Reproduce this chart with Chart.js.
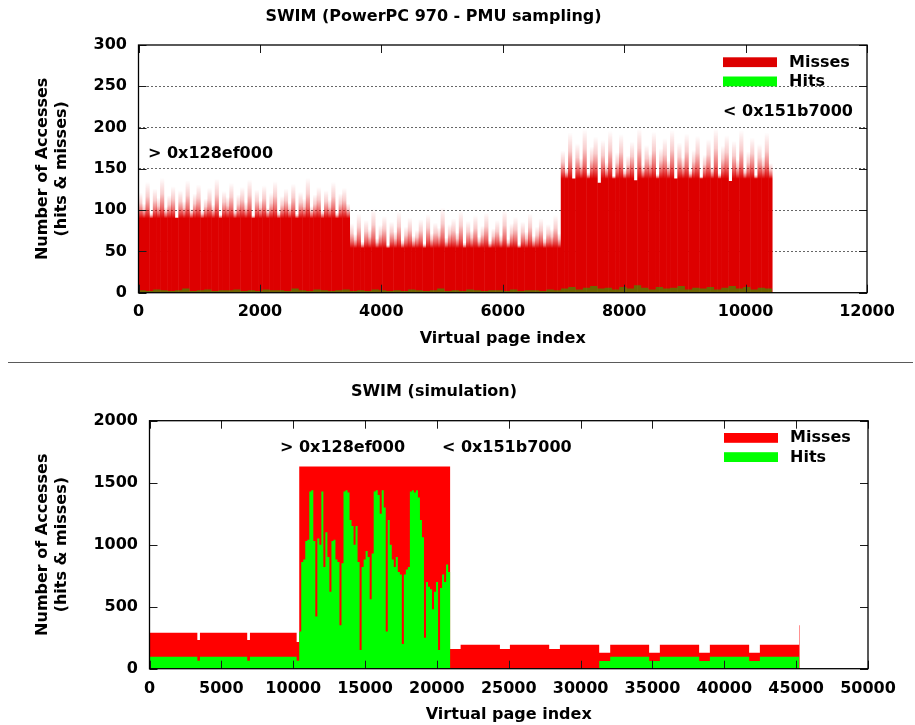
<!DOCTYPE html>
<html>
<head>
<meta charset="utf-8">
<title>SWIM page access histograms</title>
<script src="https://cdn.jsdelivr.net/npm/chart.js@4.4.1/dist/chart.umd.min.js"></script>
<style>
  html, body { margin: 0; padding: 0; background: #fff; }
  #wrap { position: relative; width: 915px; height: 725px; overflow: hidden; }
  canvas { position: absolute; left: 0; }
  #pmu { top: 0; }
  #sim { top: 362px; }
  #rule { position: absolute; left: 8px; top: 362px; width: 905px; height: 0; border-top: 1.5px solid #5a5a5a; }
</style>
</head>
<body>
<div id="wrap">
  <canvas id="pmu" width="915" height="362"></canvas>
  <canvas id="sim" width="915" height="363"></canvas>
  <div id="rule"></div>
</div>
<script>
// ---- shared text ----
const seriesNames = ['Misses', 'Hits'];
const pageAxisTitle = 'Virtual page index';
const countAxisTitle = ['Number of Accesses', '(hits & misses)'];
const rangeMarks = ['> 0x128ef000', '< 0x151b7000'];

// ---- PowerPC 970 PMU sampling ----
const pmuTitle = 'SWIM (PowerPC 970 - PMU sampling)';
const pmuPageTicks = [0, 2000, 4000, 6000, 8000, 10000, 12000];
const pmuCountTicks = [0, 50, 100, 150, 200, 250, 300];
const pmuBandStart = [0, 3480, 6960];      // first page of each array band
const pmuMissBin = 60;                       // pages per miss sample
const pmuMissesA = [121,108,134,97,126,115,139,104,118,129,92,124,111,136,102,120,131,99,114,127,
                    107,138,95,123,116,133,101,119,128,110,137,94,125,112,130,103,121,135,98,117,
                    126,109,132,96,122,114,139,105,119,128,100,124,113,134,97,120,127,108];
const pmuMissesB = [84,71,96,62,88,77,101,66,82,93,58,86,74,98,64,80,91,69,76,89,
                    60,95,72,85,79,103,67,83,90,73,99,61,87,75,94,68,81,97,63,78,
                    88,70,100,65,84,92,59,86,74,96,69,80,90,66,83,77,94,72];
const pmuMissesC = [172,151,194,138,181,163,198,146,177,189,133,185,158,196,142,170,192,149,166,183,
                    136,199,155,179,168,195,144,175,187,160,197,139,182,164,193,148,173,190,141,167,
                    186,153,199,145,178,191,135,184,161,197,150,171,188,143,180,165,194,157];
// below this level every page of a band is hit densely; above it the samples thin out
const pmuDenseLevel = [90, 54, 138];
const pmuHitBin = 120;
const pmuHitsA = [3,2,4,3,2,3,5,2,3,4,2,3,3,4,2,3,2,4,3,3,2,5,3,2,4,3,2,3,4];
const pmuHitsB = [2,3,2,4,3,2,3,2,4,3,2,3,5,2,3,2,4,3,2,3,3,2,4,2,3,3,2,4,3];
const pmuHitsC = [5,7,4,6,8,5,6,4,7,5,9,6,4,7,5,6,8,4,6,5,7,4,6,8,5,7,4,6,5];

// ---- simulation ----
const simTitle = 'SWIM (simulation)';
const simPageTicks = [0, 5000, 10000, 15000, 20000, 25000, 30000, 35000, 40000, 45000, 50000];
const simCountTicks = [0, 500, 1000, 1500, 2000];
const simHeadStart = [0, 3330, 3510, 6800, 6990, 10240];
const simHeadTotal = [290, 231, 290, 231, 290, 215];
const simHeadHits  = [97, 65, 97, 65, 97, 65];
const simBurstStart = 10420;
const simBurstBin = 140;
const simBurstTotal = 1630;
const simBurstHits = [300,860,880,1030,1040,1430,1440,1030,420,1050,
                      1000,1430,820,1100,900,620,1030,1040,880,860,
                      350,850,1430,1440,1420,1200,1150,1000,1150,860,
                      150,820,880,950,900,560,930,1430,1440,1400,
                      1250,1440,1300,300,1200,1000,880,820,900,780,
                      760,200,760,800,820,1430,1440,1420,1440,1380,
                      1200,1060,250,700,660,640,480,620,700,150,
                      650,760,700,840,780];
const simTailStart = [20920, 21650, 24385, 25080, 27815, 28560, 31295, 32060, 34770, 35515, 38250, 38995, 41730, 42475, 45210];
const simTailTotal = [159, 194, 159, 194, 159, 194, 129, 194, 129, 194, 129, 194, 129, 194, 350];
const simTailHits  = [0, 0, 0, 0, 0, 0, 62, 97, 63, 97, 63, 97, 63, 97, 0];
const simEnd = 45250;

// ---- colours ----
const pmuRed = '#dd0000';
const simRed = '#ff0000';
const hitGreen = '#00ff00';

Chart.defaults.font.family = "'DejaVu Sans', sans-serif";
Chart.defaults.font.size = 16;
Chart.defaults.font.weight = 'bold';
Chart.defaults.color = '#000';

// ---- build PMU series ----
const pmuMissBars = [];
[pmuMissesA, pmuMissesB, pmuMissesC].forEach((vals, band) => {
  vals.forEach((v, i) => pmuMissBars.push({ x: pmuBandStart[band] + (i + 0.5) * pmuMissBin, y: v, band }));
});
const pmuHitSteps = [];
[pmuHitsA, pmuHitsB, pmuHitsC].forEach((vals, band) => {
  vals.forEach((v, i) => pmuHitSteps.push({ x: pmuBandStart[band] + i * pmuHitBin, y: v }));
});
pmuHitSteps.push({ x: pmuBandStart[2] + pmuHitsC.length * pmuHitBin, y: 0 });

// ---- build simulation series ----
const simTotalSteps = [];
const simHitSteps = [];
simHeadStart.forEach((s, i) => {
  simTotalSteps.push({ x: s, y: simHeadTotal[i] });
  simHitSteps.push({ x: s, y: simHeadHits[i] });
});
simBurstHits.forEach((h, i) => {
  const s = simBurstStart + i * simBurstBin;
  simTotalSteps.push({ x: s, y: simBurstTotal });
  simHitSteps.push({ x: s, y: h });
});
simTailStart.forEach((s, i) => {
  simTotalSteps.push({ x: s, y: simTailTotal[i] });
  simHitSteps.push({ x: s, y: simTailHits[i] });
});
simTotalSteps.push({ x: simEnd, y: 0 });
simHitSteps.push({ x: simEnd, y: 0 });

// ---- fading fill: each sampled column thins out between the dense level and its own top ----
function columnFade(ctx) {
  const chart = ctx.chart;
  const raw = ctx.raw;
  if (!raw || !chart.chartArea || !chart.scales.y) return pmuRed;
  const dense = pmuDenseLevel[raw.band];
  if (raw.y <= dense) return pmuRed;
  const ys = chart.scales.y;
  const g = chart.ctx.createLinearGradient(0, ys.getPixelForValue(dense), 0, ys.getPixelForValue(raw.y));
  g.addColorStop(0, 'rgba(221,0,0,1)');
  g.addColorStop(0.25, 'rgba(221,0,0,0.6)');
  g.addColorStop(0.6, 'rgba(221,0,0,0.2)');
  g.addColorStop(1, 'rgba(221,0,0,0)');
  return g;
}

// ---- plugins: frame with inward ticks, in-plot key, range labels ----
const framePlugin = {
  id: 'frame',
  afterDraw(chart) {
    const { ctx, chartArea: a, scales: { x, y } } = chart;
    const len = 8;
    ctx.save();
    ctx.strokeStyle = '#1a1a1a';
    ctx.lineWidth = 1;
    ctx.beginPath();
    x.ticks.forEach(t => {
      const p = Math.round(x.getPixelForValue(t.value)) + 0.5;
      ctx.moveTo(p, a.bottom); ctx.lineTo(p, a.bottom - len);
      ctx.moveTo(p, a.top); ctx.lineTo(p, a.top + len);
    });
    y.ticks.forEach(t => {
      const p = Math.round(y.getPixelForValue(t.value)) + 0.5;
      ctx.moveTo(a.left, p); ctx.lineTo(a.left + len, p);
      ctx.moveTo(a.right, p); ctx.lineTo(a.right - len, p);
    });
    ctx.stroke();
    ctx.strokeStyle = '#000';
    ctx.lineWidth = 1.3;
    ctx.strokeRect(a.left, a.top, a.right - a.left, a.bottom - a.top);
    ctx.restore();
  }
};

const keyPlugin = {
  id: 'key',
  afterDraw(chart) {
    const { ctx, chartArea: a } = chart;
    const items = chart.data.datasets.filter(d => d.keyColor).sort((p, q) => p.keyRank - q.keyRank);
    ctx.save();
    ctx.font = "bold 16px 'DejaVu Sans', sans-serif";
    ctx.textBaseline = 'middle';
    ctx.textAlign = 'left';
    items.forEach((d, i) => {
      const top = a.top + 12.3 + i * 19.2;
      ctx.fillStyle = d.keyColor;
      ctx.fillRect(a.right - 144, top, 54, 9.8);
      ctx.fillStyle = '#000';
      ctx.fillText(d.label, a.right - 78, top + 5.2);
    });
    ctx.restore();
  }
};

const marksPlugin = {
  id: 'marks',
  afterDraw(chart, args, opts) {
    const { ctx, scales: { x, y } } = chart;
    ctx.save();
    ctx.font = "bold 16px 'DejaVu Sans', sans-serif";
    ctx.fillStyle = '#000';
    ctx.textAlign = 'left';
    ctx.textBaseline = 'alphabetic';
    (opts.items || []).forEach(m => ctx.fillText(m.text, x.getPixelForValue(m.x), y.getPixelForValue(m.y)));
    ctx.restore();
  }
};

function fixedWidth(w) { return s => { s.width = w; }; }
function fixedHeight(h) { return s => { s.height = h; }; }
function ticksFrom(list) { return s => { s.ticks = list.map(v => ({ value: v })); }; }

// ---- top chart: PMU sampling ----
new Chart(document.getElementById('pmu'), {
  type: 'bar',
  data: {
    datasets: [
      {
        type: 'bar',
        label: seriesNames[0],
        data: pmuMissBars,
        backgroundColor: columnFade,
        borderWidth: 0,
        barPercentage: 1,
        categoryPercentage: 1,
        grouped: false,
        inflateAmount: 0.25,
        order: 2,
        keyColor: pmuRed,
        keyRank: 0
      },
      {
        type: 'line',
        label: seriesNames[1],
        data: pmuHitSteps,
        stepped: true,
        fill: 'origin',
        backgroundColor: 'rgba(0,200,0,0.5)',
        borderWidth: 0,
        pointRadius: 0,
        order: 1,
        keyColor: hitGreen,
        keyRank: 1
      }
    ]
  },
  options: {
    responsive: false,
    animation: false,
    events: [],
    layout: { padding: { left: 0, right: 48, top: 0, bottom: 0 } },
    plugins: {
      legend: { display: false },
      tooltip: { enabled: false },
      title: { display: true, text: pmuTitle, padding: { top: 7, bottom: 18.8 }, font: { size: 16, weight: 'bold' } },
      marks: { items: [
        { text: rangeMarks[0], x: 156, y: 163 },
        { text: rangeMarks[1], x: 9630, y: 214 }
      ] }
    },
    scales: {
      x: {
        type: 'linear',
        min: 0, max: 12000,
        offset: false,
        afterBuildTicks: ticksFrom(pmuPageTicks),
        afterFit: fixedHeight(69.3),
        grid: { display: false, drawTicks: false },
        border: { display: false },
        ticks: { padding: 10, maxRotation: 0, autoSkip: false, callback: v => String(v) },
        title: { display: true, text: pageAxisTitle, padding: { top: 0, bottom: 13.4 } }
      },
      y: {
        min: 0, max: 300,
        z: 1,
        afterBuildTicks: ticksFrom(pmuCountTicks),
        afterFit: fixedWidth(138.5),
        grid: {
          drawTicks: false,
          lineWidth: 1,
          color: c => (c.tick && (c.tick.value === 0 || c.tick.value === 300)) ? 'rgba(0,0,0,0)' : 'rgba(0,0,0,0.6)'
        },
        border: { display: false, dash: [2, 2] },
        ticks: { padding: 11.5, autoSkip: false, callback: v => String(v) },
        title: { display: true, text: countAxisTitle, padding: { top: 33.4, bottom: 0 } }
      }
    }
  },
  plugins: [framePlugin, keyPlugin, marksPlugin]
});

// ---- bottom chart: simulation ----
new Chart(document.getElementById('sim'), {
  type: 'line',
  data: {
    datasets: [
      {
        label: seriesNames[0],
        data: simTotalSteps,
        stepped: true,
        fill: 'origin',
        backgroundColor: simRed,
        borderWidth: 0,
        pointRadius: 0,
        order: 2,
        keyColor: simRed,
        keyRank: 0
      },
      {
        label: seriesNames[1],
        data: simHitSteps,
        stepped: true,
        fill: 'origin',
        backgroundColor: hitGreen,
        borderWidth: 0,
        pointRadius: 0,
        order: 1,
        keyColor: hitGreen,
        keyRank: 1
      }
    ]
  },
  options: {
    responsive: false,
    animation: false,
    events: [],
    layout: { padding: { left: 0, right: 47, top: 0, bottom: 0 } },
    plugins: {
      legend: { display: false },
      tooltip: { enabled: false },
      title: { display: true, text: simTitle, padding: { top: 20.4, bottom: 19.1 }, font: { size: 16, weight: 'bold' } },
      marks: { items: [
        { text: rangeMarks[0], x: 9080, y: 1748 },
        { text: rangeMarks[1], x: 20350, y: 1748 }
      ] }
    },
    scales: {
      x: {
        type: 'linear',
        min: 0, max: 50000,
        afterBuildTicks: ticksFrom(simPageTicks),
        afterFit: fixedHeight(56.3),
        grid: { display: false, drawTicks: false },
        border: { display: false },
        ticks: { padding: 10.5, maxRotation: 0, autoSkip: false, callback: v => String(v) },
        title: { display: true, text: pageAxisTitle, padding: { top: 0, bottom: 0.4 } }
      },
      y: {
        min: 0, max: 2000,
        afterBuildTicks: ticksFrom(simCountTicks),
        afterFit: fixedWidth(149.5),
        grid: { display: false, drawTicks: false },
        border: { display: false },
        ticks: { padding: 11.5, autoSkip: false, callback: v => String(v) },
        title: { display: true, text: countAxisTitle, padding: { top: 33.4, bottom: 0 } }
      }
    }
  },
  plugins: [framePlugin, keyPlugin, marksPlugin]
});
</script>
</body>
</html>
